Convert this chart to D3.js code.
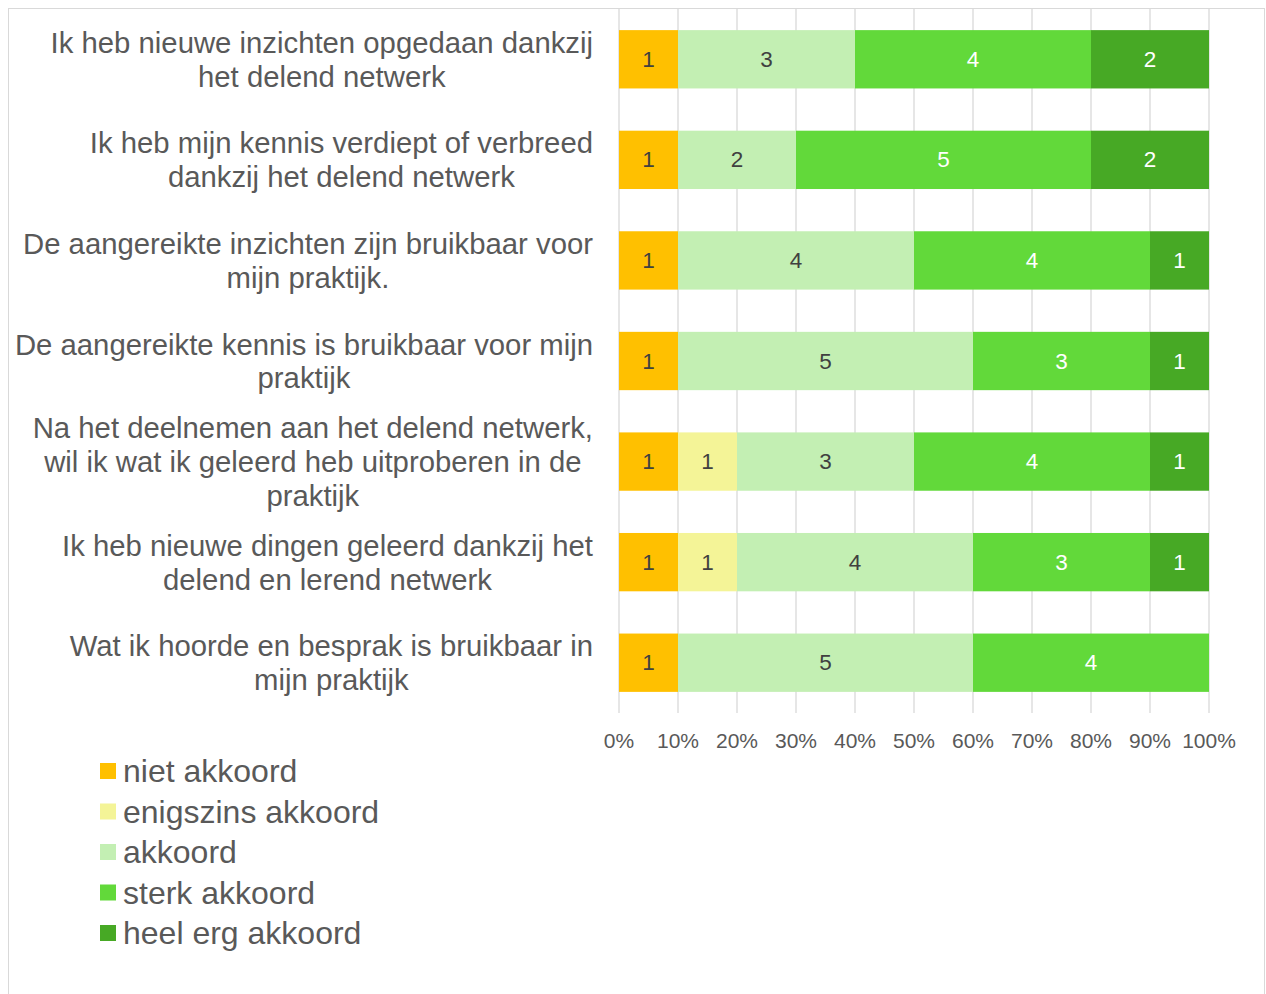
<!DOCTYPE html>
<html><head><meta charset="utf-8">
<script src="https://cdn.jsdelivr.net/npm/d3@7"></script>
<style>body{margin:0;background:#fff}svg{display:block;font-family:"Liberation Sans",Arial,sans-serif}</style>
</head><body><svg id="c" width="1266" height="994"></svg>
<script>
const categories = [
  ["Ik heb nieuwe inzichten opgedaan dankzij","het delend netwerk"],
  ["Ik heb mijn kennis verdiept of verbreed","dankzij het delend netwerk"],
  ["De aangereikte inzichten zijn bruikbaar voor","mijn praktijk."],
  ["De aangereikte kennis is bruikbaar voor mijn","praktijk"],
  ["Na het deelnemen aan het delend netwerk,","wil ik wat ik geleerd heb uitproberen in de","praktijk"],
  ["Ik heb nieuwe dingen geleerd dankzij het","delend en lerend netwerk"],
  ["Wat ik hoorde en besprak is bruikbaar in","mijn praktijk"]
];
const seriesNames = ["niet akkoord","enigszins akkoord","akkoord","sterk akkoord","heel erg akkoord"];
const nietAkkoord     = [1,1,1,1,1,1,1];
const enigszinsAkkoord= [0,0,0,0,1,1,0];
const akkoord         = [3,2,4,5,3,4,5];
const sterkAkkoord    = [4,5,4,3,4,3,4];
const heelErgAkkoord  = [2,2,1,1,1,1,0];
const colors = ["#FFC000","#F4F497","#C3EFB3","#62D93A","#47A925"];
const labelColors = ["#404040","#404040","#404040","#ffffff","#ffffff"];
const tickValues = [0,0.1,0.2,0.3,0.4,0.5,0.6,0.7,0.8,0.9,1];

const series = [nietAkkoord,enigszinsAkkoord,akkoord,sterkAkkoord,heelErgAkkoord];
const rows = categories.map((c,i)=>{const o={i};seriesNames.forEach((s,j)=>o[s]=series[j][i]);o.total=d3.sum(series,a=>a[i]);return o;});

const svg = d3.select("#c");
svg.append("rect").attr("x",8.5).attr("y",8.5).attr("width",1256).attr("height",1000).attr("fill","#fff").attr("stroke","#d9d9d9");

const x = d3.scaleLinear().domain([0,1]).range([619,1209]);
const y = d3.scaleBand().domain(d3.range(categories.length)).range([9,713]).paddingInner(0.42).paddingOuter(0.21);

svg.append("g").selectAll("line").data(tickValues).join("line")
  .attr("x1",d=>x(d)).attr("x2",d=>x(d)).attr("y1",9).attr("y2",713)
  .attr("stroke","#d9d9d9").attr("stroke-width",1.3);

const stack = d3.stack().keys(seriesNames).value((d,k)=>d[k]/d.total);
const stacked = stack(rows);

const g = svg.append("g");
stacked.forEach((layer,j)=>{
  const lg = g.append("g");
  const data = layer.filter(d=>d.data[seriesNames[j]]>0);
  lg.selectAll("rect").data(data).join("rect")
    .attr("x",d=>x(d[0])).attr("width",d=>x(d[1])-x(d[0]))
    .attr("y",d=>y(d.data.i)).attr("height",y.bandwidth()).attr("fill",colors[j]);
  lg.selectAll("text").data(data).join("text")
    .attr("x",d=>(x(d[0])+x(d[1]))/2).attr("y",d=>y(d.data.i)+y.bandwidth()/2)
    .attr("text-anchor","middle").attr("dominant-baseline","central")
    .attr("font-size",22.5).attr("fill",labelColors[j])
    .text(d=>d.data[seriesNames[j]]);
});

svg.append("g").selectAll("text").data(tickValues).join("text")
  .attr("x",d=>x(d)).attr("y",740).attr("text-anchor","middle").attr("dominant-baseline","central")
  .attr("font-size",21).attr("fill","#595959").text(d=>d3.format(".0%")(d));

const fs = 29.3, lh = 33.8;
categories.forEach((lines,i)=>{
  const cy = y(i)+y.bandwidth()/2;
  const t = svg.append("text").attr("font-size",fs).attr("fill","#595959").attr("text-anchor","middle");
  const widths = lines.map(l=>{const s=svg.append("text").attr("font-size",fs).text(l);const w=s.node().getComputedTextLength();s.remove();return w;});
  const cx = 593 - d3.max(widths)/2;
  lines.forEach((l,k)=>{
    t.append("tspan").attr("x",cx).attr("y",cy+(k-(lines.length-1)/2)*lh).attr("dominant-baseline","central").text(l);
  });
});

const lgd = svg.append("g");
seriesNames.forEach((s,j)=>{
  const ly = 771 + j*40.5;
  lgd.append("rect").attr("x",100).attr("y",ly-8).attr("width",16).attr("height",16).attr("fill",colors[j]);
  lgd.append("text").attr("x",123).attr("y",ly).attr("dominant-baseline","central")
    .attr("font-size",32).attr("fill","#595959").text(s);
});
</script></body></html>
